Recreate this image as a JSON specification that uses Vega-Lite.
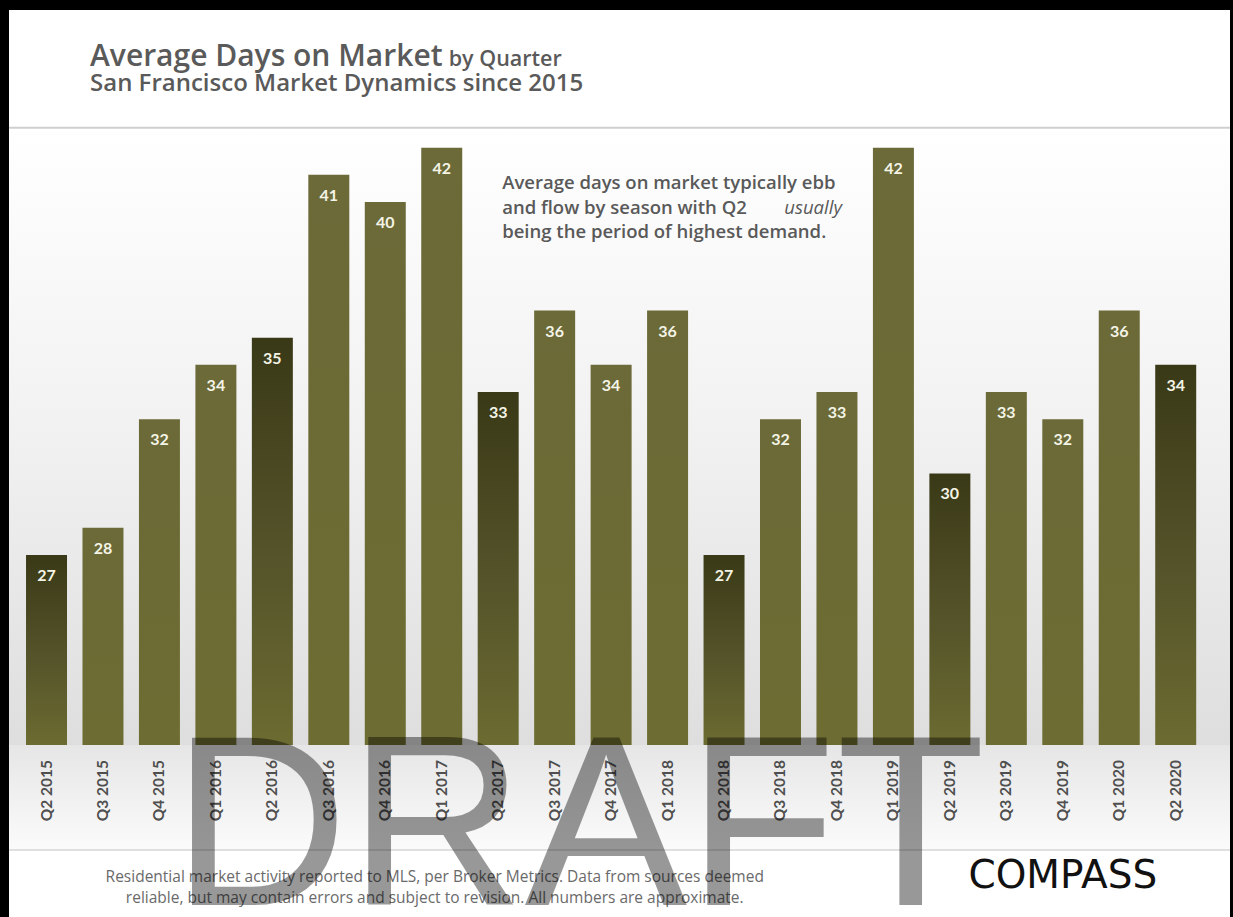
{
  "$schema": "https://vega.github.io/schema/vega-lite/v6.json",
  "autosize": "none",
  "width": 1221,
  "height": 907,
  "padding": {"left": 9, "top": 10, "right": 3, "bottom": 0},
  "background": "#000000",
  "config": {"view": {"stroke": null, "fill": "#ffffff"}},
  "data": {"values": [
    {"quarter": "Q2 2015", "days": 27},
    {"quarter": "Q3 2015", "days": 28},
    {"quarter": "Q4 2015", "days": 32},
    {"quarter": "Q1 2016", "days": 34},
    {"quarter": "Q2 2016", "days": 35},
    {"quarter": "Q3 2016", "days": 41},
    {"quarter": "Q4 2016", "days": 40},
    {"quarter": "Q1 2017", "days": 42},
    {"quarter": "Q2 2017", "days": 33},
    {"quarter": "Q3 2017", "days": 36},
    {"quarter": "Q4 2017", "days": 34},
    {"quarter": "Q1 2018", "days": 36},
    {"quarter": "Q2 2018", "days": 27},
    {"quarter": "Q3 2018", "days": 32},
    {"quarter": "Q4 2018", "days": 33},
    {"quarter": "Q1 2019", "days": 42},
    {"quarter": "Q2 2019", "days": 30},
    {"quarter": "Q3 2019", "days": 33},
    {"quarter": "Q4 2019", "days": 32},
    {"quarter": "Q1 2020", "days": 36},
    {"quarter": "Q2 2020", "days": 34}
  ]},
  "encoding": {
    "x": {
      "field": "quarter", "type": "nominal", "axis": null,
      "scale": {
        "type": "band",
        "domain": ["Q2 2015","Q3 2015","Q4 2015","Q1 2016","Q2 2016","Q3 2016","Q4 2016","Q1 2017","Q2 2017","Q3 2017","Q4 2017","Q1 2018","Q2 2018","Q3 2018","Q4 2018","Q1 2019","Q2 2019","Q3 2019","Q4 2019","Q1 2020","Q2 2020"],
        "paddingInner": 0.274, "paddingOuter": 0.45, "align": 0.335
      }
    }
  },
  "layer": [
    {
      "data": {"values": [{}]},
      "mark": {"type": "rect", "color": {"gradient": "linear", "x1": 0, "y1": 0, "x2": 0, "y2": 1, "stops": [{"offset": 0, "color": "#ffffff"}, {"offset": 0.5, "color": "#f1f1f1"}, {"offset": 1, "color": "#dedede"}]}},
      "encoding": {
        "x": null,
        "y": {"datum": 42.73, "type": "quantitative", "axis": null, "scale": {"domain": [13.665, 47.07], "zero": false, "nice": false}},
        "y2": {"datum": 20}
      }
    },
    {
      "data": {"values": [{}]},
      "mark": {"type": "rect", "color": {"gradient": "linear", "x1": 0, "y1": 0, "x2": 0, "y2": 1, "stops": [{"offset": 0, "color": "#e6e6e6"}, {"offset": 1, "color": "#fbfbfb"}]}},
      "encoding": {"x": null, "y": {"datum": 20, "type": "quantitative"}, "y2": {"datum": 16.13}}
    },
    {
      "data": {"values": [{}]},
      "mark": {"type": "rule", "color": "#cfcfcf", "strokeWidth": 2},
      "encoding": {"x": null, "y": {"datum": 42.73, "type": "quantitative"}}
    },
    {
      "data": {"values": [{}]},
      "mark": {"type": "rule", "color": "#d6d6d6", "strokeWidth": 1.5},
      "encoding": {"x": null, "y": {"datum": 16.13, "type": "quantitative"}}
    },
    {
      "transform": [{"filter": "indexof(datum.quarter, 'Q2') != 0"}],
      "mark": {"type": "bar", "color": {"gradient": "linear", "x1": 0, "y1": 0, "x2": 0, "y2": 1, "stops": [{"offset": 0, "color": "#6b6a38"}, {"offset": 1, "color": "#6d6c32"}]}},
      "encoding": {"y": {"field": "days", "type": "quantitative"}, "y2": {"datum": 20}}
    },
    {
      "transform": [{"filter": "indexof(datum.quarter, 'Q2') == 0"}],
      "mark": {"type": "bar", "color": {"gradient": "linear", "x1": 0, "y1": 0, "x2": 0, "y2": 1, "stops": [{"offset": 0, "color": "#3a3917"}, {"offset": 0.55, "color": "#55542a"}, {"offset": 1, "color": "#6c6b31"}]}},
      "encoding": {"y": {"field": "days", "type": "quantitative"}, "y2": {"datum": 20}}
    },
    {
      "mark": {"type": "text", "font": "Lato", "fontWeight": "bold", "fontSize": 16, "color": "#f4f4e6", "baseline": "middle", "dy": 21},
      "encoding": {"y": {"field": "days", "type": "quantitative"}, "text": {"field": "days"}}
    },
    {
      "mark": {"type": "text", "font": "Lato", "fontWeight": "bold", "fontSize": 15.5, "color": "#4f4f4f", "angle": 270, "align": "right", "baseline": "middle"},
      "encoding": {"y": {"datum": 19.448, "type": "quantitative"}, "text": {"field": "quarter"}}
    },
    {
      "data": {"values": [{"t": "Average Days on Market"}]},
      "mark": {"type": "text", "font": "Open Sans", "fontWeight": 600, "fontSize": 30, "color": "#5a5a5a", "align": "left", "baseline": "alphabetic", "dx": 43.5},
      "encoding": {"x": {"datum": "Q2 2015"}, "y": {"datum": 45.01, "type": "quantitative"}, "text": {"field": "t"}}
    },
    {
      "data": {"values": [{"t": "by Quarter"}]},
      "mark": {"type": "text", "font": "Open Sans", "fontWeight": 600, "fontSize": 21.5, "color": "#5a5a5a", "align": "left", "baseline": "alphabetic", "dx": 7},
      "encoding": {"x": {"datum": "Q1 2017"}, "y": {"datum": 45.01, "type": "quantitative"}, "text": {"field": "t"}}
    },
    {
      "data": {"values": [{"t": "San Francisco Market Dynamics since 2015"}]},
      "mark": {"type": "text", "font": "Open Sans", "fontWeight": 600, "fontSize": 24, "color": "#5a5a5a", "align": "left", "baseline": "alphabetic", "dx": 43.5},
      "encoding": {"x": {"datum": "Q2 2015"}, "y": {"datum": 44.09, "type": "quantitative"}, "text": {"field": "t"}}
    },
    {
      "data": {"values": [{"t": "Average days on market typically ebb", "v": 40.48}, {"t": "and flow by season with Q2", "v": 39.56}, {"t": "being the period of highest demand.", "v": 38.67}]},
      "mark": {"type": "text", "font": "Open Sans", "fontWeight": 600, "fontSize": 18.5, "color": "#595959", "align": "left", "baseline": "alphabetic", "dx": 4},
      "encoding": {"x": {"datum": "Q2 2017"}, "y": {"field": "v", "type": "quantitative"}, "text": {"field": "t"}}
    },
    {
      "data": {"values": [{"t": "usually"}]},
      "mark": {"type": "text", "font": "Open Sans", "fontStyle": "italic", "fontSize": 18.5, "color": "#595959", "align": "right", "baseline": "alphabetic", "dx": 5},
      "encoding": {"x": {"datum": "Q4 2018"}, "y": {"datum": 39.56, "type": "quantitative"}, "text": {"field": "t"}}
    },
    {
      "data": {"values": [{"t": "Residential market activity reported to MLS, per Broker Metrics. Data from sources deemed", "v": 14.954}, {"t": "reliable, but may contain errors and subject to revision. All numbers are approximate.", "v": 14.18}]},
      "mark": {"type": "text", "font": "Open Sans", "fontSize": 15.5, "color": "#6a6a6a", "align": "center", "baseline": "alphabetic", "dx": -7},
      "encoding": {"x": {"datum": "Q1 2017"}, "y": {"field": "v", "type": "quantitative"}, "text": {"field": "t"}}
    },
    {
      "data": {"values": [{"t": "COMPASS"}]},
      "mark": {"type": "text", "font": "DejaVu Sans", "fontSize": 39, "color": "#111111", "align": "center", "baseline": "alphabetic"},
      "encoding": {"x": {"datum": "Q4 2019"}, "y": {"datum": 14.733, "type": "quantitative"}, "text": {"field": "t"}}
    },
    {
      "data": {"values": [{"t": "DRAFT"}]},
      "mark": {"type": "text", "font": "Liberation Sans", "fontSize": 244, "color": "#000000", "opacity": 0.4, "align": "center", "baseline": "alphabetic", "dx": 24},
      "encoding": {"x": {"datum": "Q3 2017"}, "y": {"datum": 14.107, "type": "quantitative"}, "text": {"field": "t"}}
    }
  ]
}
